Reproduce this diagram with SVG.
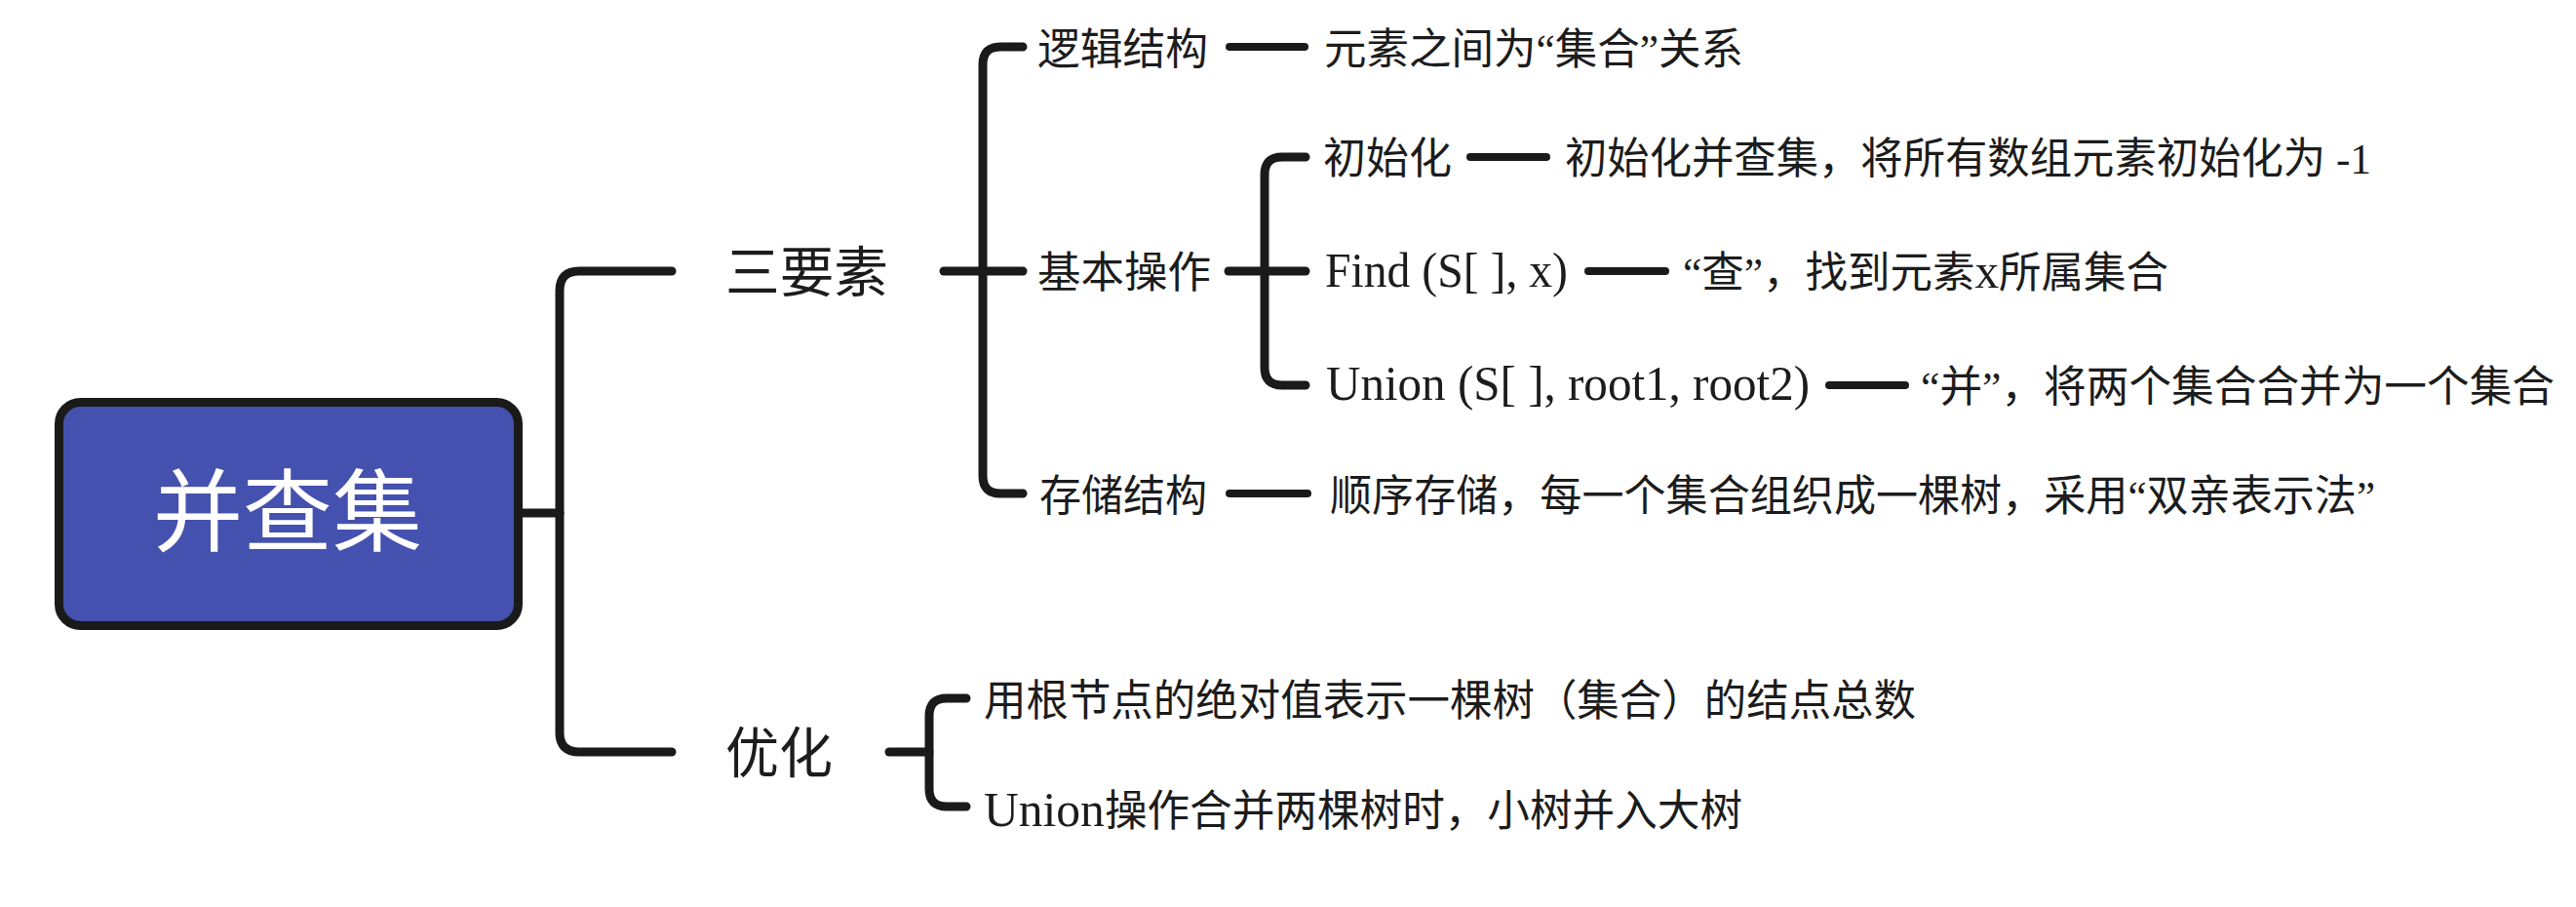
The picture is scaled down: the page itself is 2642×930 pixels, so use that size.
<svg xmlns="http://www.w3.org/2000/svg" width="2642" height="930" viewBox="0 0 2642 930">
<style>
.ln{fill:none;stroke:#1a1a1a;stroke-width:9;stroke-linecap:round;stroke-linejoin:round}
.dash{stroke-width:8}
.t{font-family:"Liberation Serif","Noto Sans CJK SC",serif;font-size:44px;fill:#1c1c1c}
.lat{font-size:50px}
.l1{font-family:"Noto Sans CJK SC",sans-serif;font-size:56px;fill:#1c1c1c}
.root{font-family:"Noto Sans CJK SC",sans-serif;font-size:92px;fill:#ffffff}
</style>
<rect width="2642" height="930" fill="#ffffff"/>
<g id="connectors">
  <path class="ln" d="M536 526 H574"/>
  <path class="ln" d="M689 278 H594 Q574 278 574 298 V751 Q574 771 594 771 H689"/>
  <path class="ln" d="M968 278 H1049"/>
  <path class="ln" d="M1049 48 H1026 Q1008 48 1008 66 V488 Q1008 506 1026 506 H1049"/>
  <path class="ln" d="M1260 278 H1339"/>
  <path class="ln" d="M1339 161 H1315 Q1297 161 1297 179 V377 Q1297 395 1315 395 H1339"/>
  <path class="ln" d="M912 771 H953"/>
  <path class="ln" d="M991 716 H971 Q953 716 953 734 V809 Q953 827 971 827 H991"/>
  <path class="ln dash" d="M1261 48 H1338"/>
  <path class="ln dash" d="M1508 161 H1586"/>
  <path class="ln dash" d="M1629 278 H1708"/>
  <path class="ln dash" d="M1876 395 H1954"/>
  <path class="ln dash" d="M1261 506 H1341"/>
</g>
<g id="root">
  <rect x="60.5" y="412.5" width="471" height="229" rx="22" fill="#4551AE" stroke="#1a1a1a" stroke-width="9"/>
  <text class="root" x="295" y="558" text-anchor="middle">并查集</text>
</g>
<g id="n-sanyaosu">
  <text class="l1" x="744" y="299" textLength="167" lengthAdjust="spacingAndGlyphs">三要素</text>
</g>
<g id="n-youhua">
  <text class="l1" x="744" y="792" textLength="110" lengthAdjust="spacingAndGlyphs">优化</text>
</g>
<g id="n-luoji">
  <text class="t" x="1064" y="66" textLength="175" lengthAdjust="spacingAndGlyphs">逻辑结构</text>
</g>
<g id="n-luoji-desc">
  <text class="t" x="1358" y="66" textLength="430" lengthAdjust="spacingAndGlyphs">元素之间为“集合”关系</text>
</g>
<g id="n-jiben">
  <text class="t" x="1064" y="295" textLength="178" lengthAdjust="spacingAndGlyphs">基本操作</text>
</g>
<g id="n-init">
  <text class="t" x="1357" y="178" textLength="132" lengthAdjust="spacingAndGlyphs">初始化</text>
</g>
<g id="n-init-desc">
  <text class="t" x="1605" y="178" textLength="827" lengthAdjust="spacingAndGlyphs">初始化并查集，将所有数组元素初始化为 -1</text>
</g>
<g id="n-find">
  <text class="t lat" x="1359" y="294" textLength="249" lengthAdjust="spacingAndGlyphs">Find (S[ ], x)</text>
</g>
<g id="n-find-desc">
  <text class="t" x="1726" y="295" textLength="498" lengthAdjust="spacingAndGlyphs">“查”，找到元素<tspan class="lat">x</tspan>所属集合</text>
</g>
<g id="n-union">
  <text class="t lat" x="1360" y="410" textLength="496" lengthAdjust="spacingAndGlyphs">Union (S[ ], root1, root2)</text>
</g>
<g id="n-union-desc">
  <text class="t" x="1970" y="412" textLength="650" lengthAdjust="spacingAndGlyphs">“并”，将两个集合合并为一个集合</text>
</g>
<g id="n-cunchu">
  <text class="t" x="1066" y="524" textLength="172" lengthAdjust="spacingAndGlyphs">存储结构</text>
</g>
<g id="n-cunchu-desc">
  <text class="t" x="1364" y="524" textLength="1072" lengthAdjust="spacingAndGlyphs">顺序存储，每一个集合组织成一棵树，采用“双亲表示法”</text>
</g>
<g id="n-opt1">
  <text class="t" x="1009" y="734" textLength="956" lengthAdjust="spacingAndGlyphs">用根节点的绝对值表示一棵树（集合）的结点总数</text>
</g>
<g id="n-opt2">
  <text class="t" x="1009" y="847" textLength="778" lengthAdjust="spacingAndGlyphs"><tspan class="lat">Union</tspan>操作合并两棵树时，小树并入大树</text>
</g>
</svg>
